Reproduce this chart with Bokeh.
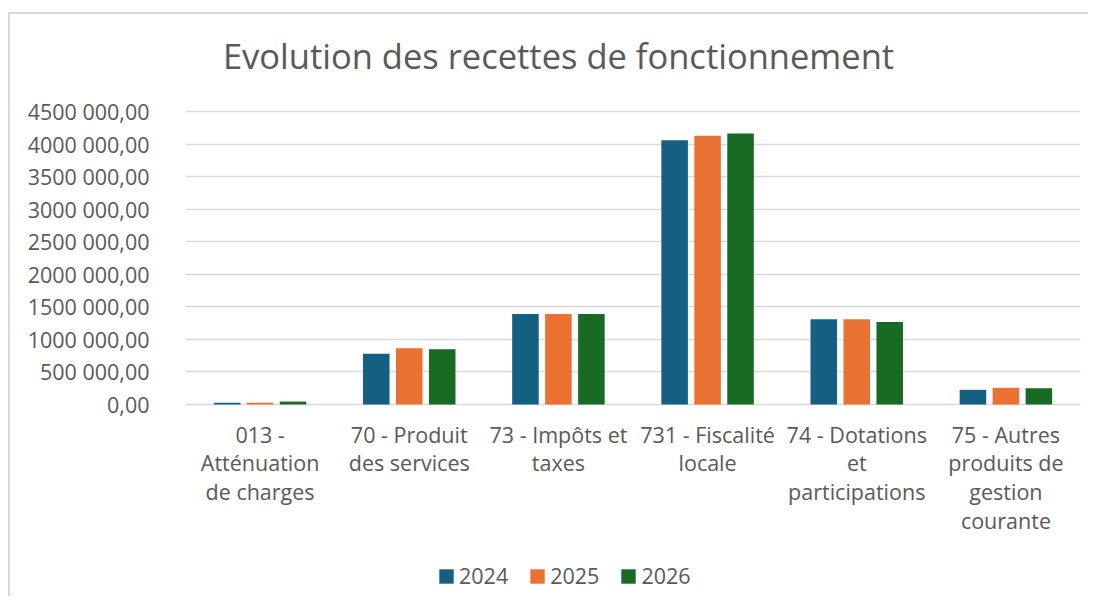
from bokeh.plotting import figure
from bokeh.models import ColumnDataSource, Legend, LegendItem, FixedTicker, Label, Range1d
from bokeh.core.properties import value
from bokeh.transform import dodge
from bokeh.embed import file_html
from bokeh.resources import INLINE

categories = ["013 - Atténuation de charges", "70 - Produit des services", "73 - Impôts et taxes",
              "731 - Fiscalité locale", "74 - Dotations et participations",
              "75 - Autres produits de gestion courante"]
category_labels = ["013 -\nAtténuation\nde charges", "70 - Produit\ndes services", "73 - Impôts et\ntaxes",
                   "731 - Fiscalité\nlocale", "74 - Dotations\net\nparticipations",
                   "75 - Autres\nproduits de\ngestion\ncourante"]
years = ["2024", "2025", "2026"]
v2024 = [25000, 778000, 1391000, 4060000, 1308000, 225000]
v2025 = [28000, 864000, 1391000, 4126000, 1308000, 256000]
v2026 = [45000, 848000, 1391000, 4161000, 1268000, 250000]
y_ticks = [0, 500000, 1000000, 1500000, 2000000, 2500000, 3000000, 3500000, 4000000, 4500000]
y_tick_labels = ["0,00", "500 000,00", "1000 000,00", "1500 000,00", "2000 000,00", "2500 000,00",
                 "3000 000,00", "3500 000,00", "4000 000,00", "4500 000,00"]
title_text = "Evolution des recettes de fonctionnement"

colors = ["#156082", "#E97132", "#196B24"]
TXT = "#595959"
GRID = "#D9D9D9"
FONT = "Open Sans"
FS = "21.5px"

# layout (page pixels)
FIG_W, FIG_H = 1080, 584
TOP_PAGE = 14          # page y of figure content top
ZERO_PAGE = 404        # page y of the 0 line
AXIS_MAX_PAGE = 111    # page y of the 4 500 000 line
AXIS_MAX = 4500000
px_per = (ZERO_PAGE - AXIS_MAX_PAGE) / AXIS_MAX
y_end = (ZERO_PAGE - TOP_PAGE) / px_per
y_start = -((TOP_PAGE + FIG_H) - ZERO_PAGE) / px_per
label_top = -(419 - ZERO_PAGE) / px_per

src = ColumnDataSource(data=dict(cat=categories, label=category_labels,
                                 y2024=v2024, y2025=v2025, y2026=v2026))

p = figure(x_range=categories, y_range=Range1d(y_start, y_end), width=FIG_W, height=FIG_H,
           output_backend="svg", toolbar_location=None,
           min_border_left=175, min_border_right=10, min_border_top=0, min_border_bottom=0)
p.styles = {"border-left": "2px solid #D9D9D9", "border-top": "2px solid #D9D9D9",
            "margin-top": "12px", "margin-left": "8px"}
p.outline_line_color = None
p.background_fill_color = "white"
p.border_fill_color = "white"

renderers = []
offsets = [-0.221, 0.0, 0.221]
for yr, col, off in zip(years, colors, offsets):
    r = p.vbar(x=dodge("cat", off, range=p.x_range), top="y" + yr, width=0.178, source=src,
               fill_color=col, line_color=None)
    renderers.append(r)

# category labels
p.text(x="cat", y=label_top, text="label", source=src, text_align="center", text_baseline="top",
       text_font=value(FONT), text_font_size=value(FS), text_color=TXT, text_line_height=0.99)

# title
p.add_layout(Label(x=373, y=(TOP_PAGE + FIG_H) - 55, x_units="screen", y_units="screen",
                   text=title_text, text_font=FONT, text_font_size="34.5px", text_color=TXT,
                   text_align="center", text_baseline="middle"))

# axes
p.xaxis.visible = False
p.yaxis.ticker = FixedTicker(ticks=y_ticks)
p.yaxis.major_label_overrides = {t: l for t, l in zip(y_ticks, y_tick_labels)}
p.yaxis.axis_line_color = None
p.yaxis.major_tick_line_color = None
p.yaxis.minor_tick_line_color = None
p.yaxis.major_label_text_font = FONT
p.yaxis.major_label_text_font_size = FS
p.yaxis.major_label_text_color = TXT
p.yaxis.major_label_standoff = 30

p.xgrid.grid_line_color = None
p.ygrid.grid_line_color = GRID
p.ygrid.grid_line_width = 1.5

legend = Legend(items=[LegendItem(label=yr, renderers=[r]) for yr, r in zip(years, renderers)],
                orientation="horizontal", location=(252, 8),
                glyph_width=18, glyph_height=18, label_standoff=4, spacing=20,
                padding=0, margin=0, border_line_color=None, background_fill_alpha=0,
                label_text_font=FONT, label_text_font_size=FS, label_text_color=TXT)
p.add_layout(legend, "center")

open("out.html", "w").write(file_html(p, INLINE))
